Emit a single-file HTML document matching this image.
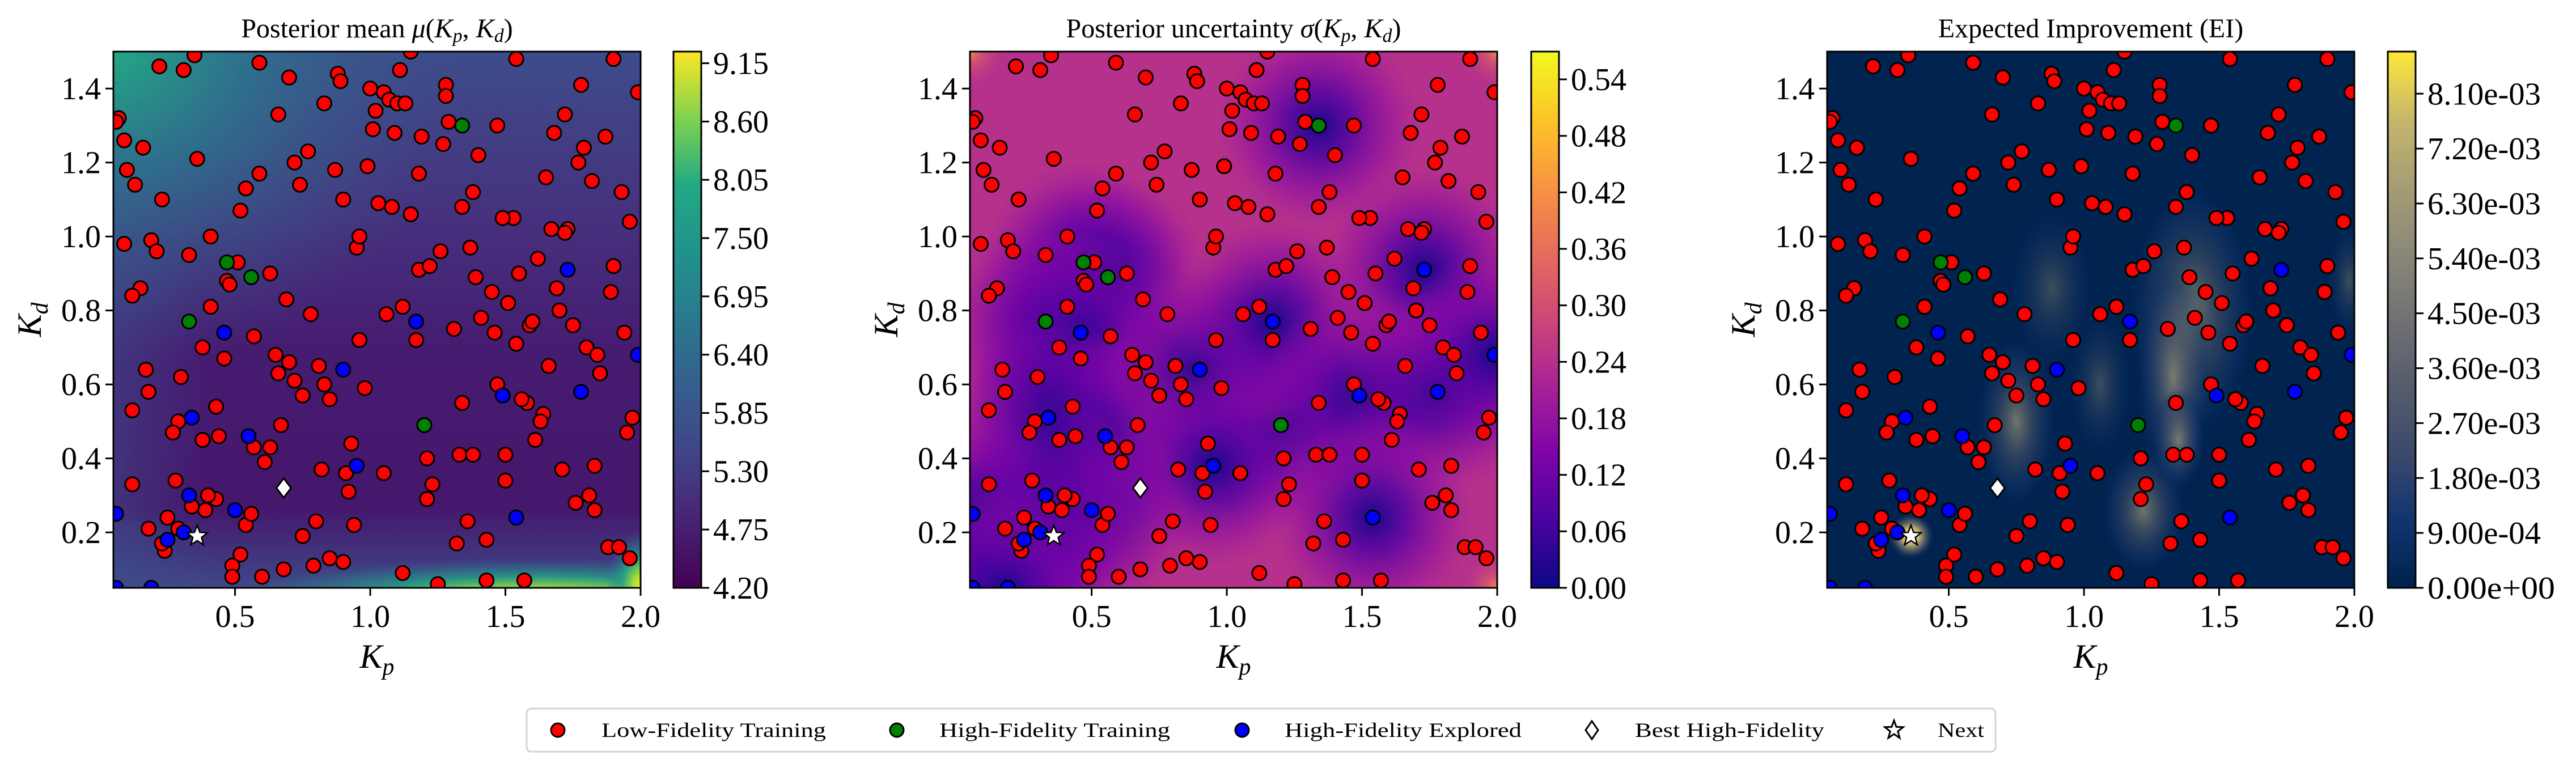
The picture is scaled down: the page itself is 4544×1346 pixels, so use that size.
<!DOCTYPE html>
<html><head><meta charset="utf-8">
<style>
html,body{margin:0;padding:0;background:#fff;}
svg{display:block;font-family:"Liberation Serif",serif;}
</style></head>
<body>
<svg id="fig" width="4544" height="1346" viewBox="0 0 4544 1346" xmlns="http://www.w3.org/2000/svg">
<defs>
  <linearGradient id="viridis" x1="0" y1="1" x2="0" y2="0">
    <stop offset="0" stop-color="#440154"/><stop offset="0.13" stop-color="#482475"/><stop offset="0.25" stop-color="#414487"/>
    <stop offset="0.38" stop-color="#355f8d"/><stop offset="0.5" stop-color="#2a788e"/><stop offset="0.62" stop-color="#21918c"/>
    <stop offset="0.75" stop-color="#22a884"/><stop offset="0.87" stop-color="#7ad151"/><stop offset="1" stop-color="#fde725"/>
  </linearGradient>
  <linearGradient id="plasma" x1="0" y1="1" x2="0" y2="0">
    <stop offset="0" stop-color="#0d0887"/><stop offset="0.13" stop-color="#4c02a1"/><stop offset="0.25" stop-color="#7e03a8"/>
    <stop offset="0.38" stop-color="#a92395"/><stop offset="0.5" stop-color="#cc4778"/><stop offset="0.62" stop-color="#e56b5d"/>
    <stop offset="0.75" stop-color="#f89441"/><stop offset="0.87" stop-color="#fdc328"/><stop offset="1" stop-color="#f0f921"/>
  </linearGradient>
  <linearGradient id="cividis" x1="0" y1="1" x2="0" y2="0">
    <stop offset="0" stop-color="#00224e"/><stop offset="0.13" stop-color="#123570"/><stop offset="0.25" stop-color="#3b496c"/>
    <stop offset="0.38" stop-color="#575d6d"/><stop offset="0.5" stop-color="#707173"/><stop offset="0.62" stop-color="#8a8779"/>
    <stop offset="0.75" stop-color="#a69d75"/><stop offset="0.87" stop-color="#c4b56c"/><stop offset="1" stop-color="#fee838"/>
  </linearGradient>
  <linearGradient id="muBase" x1="0" y1="0" x2="0" y2="1">
    <stop offset="0" stop-color="#3e4c8a"/><stop offset="0.3" stop-color="#46327e"/><stop offset="0.55" stop-color="#461c71"/>
    <stop offset="0.85" stop-color="#45176d"/><stop offset="1" stop-color="#3f4888"/>
  </linearGradient>
  <radialGradient id="muTL" cx="0.5" cy="0.5" r="0.5">
    <stop offset="0" stop-color="#22a884" stop-opacity="1"/><stop offset="0.4" stop-color="#2a788e" stop-opacity="0.75"/><stop offset="1" stop-color="#3b528b" stop-opacity="0"/>
  </radialGradient>
  <radialGradient id="muBot" cx="0.5" cy="0.5" r="0.5">
    <stop offset="0" stop-color="#fde725"/><stop offset="0.25" stop-color="#a0da39"/><stop offset="0.55" stop-color="#22a884" stop-opacity="0.8"/><stop offset="1" stop-color="#2a788e" stop-opacity="0"/>
  </radialGradient>
  <linearGradient id="muLeft" x1="0" y1="0" x2="1" y2="0">
    <stop offset="0" stop-color="#3b528b" stop-opacity="0.9"/><stop offset="1" stop-color="#3b528b" stop-opacity="0"/>
  </linearGradient>
  <radialGradient id="sigBlob" cx="0.5" cy="0.5" r="0.5">
    <stop offset="0" stop-color="#1a068d" stop-opacity="1"/><stop offset="0.35" stop-color="#5302a3" stop-opacity="0.8"/><stop offset="0.7" stop-color="#7e03a8" stop-opacity="0.4"/><stop offset="1" stop-color="#9c179e" stop-opacity="0"/>
  </radialGradient>
  <radialGradient id="sigCorner" cx="0.5" cy="0.5" r="0.5">
    <stop offset="0" stop-color="#f89441"/><stop offset="0.3" stop-color="#e56b5d" stop-opacity="0.6"/><stop offset="1" stop-color="#cc4778" stop-opacity="0"/>
  </radialGradient>
  <radialGradient id="eiBlob" cx="0.5" cy="0.5" r="0.5">
    <stop offset="0" stop-color="#a69d75" stop-opacity="0.9"/><stop offset="0.45" stop-color="#575d6d" stop-opacity="0.6"/><stop offset="0.8" stop-color="#123570" stop-opacity="0.45"/><stop offset="1" stop-color="#00224e" stop-opacity="0"/>
  </radialGradient>
  <radialGradient id="eiStar" cx="0.5" cy="0.5" r="0.5">
    <stop offset="0" stop-color="#fee838"/><stop offset="0.35" stop-color="#c4b56c"/><stop offset="0.7" stop-color="#575d6d" stop-opacity="0.6"/><stop offset="1" stop-color="#00224e" stop-opacity="0"/>
  </radialGradient>
  <clipPath id="clip1"><rect x="200" y="91" width="930" height="946"/></clipPath>
  <clipPath id="clip2"><rect x="1711" y="91" width="930" height="946"/></clipPath>
  <clipPath id="clip3"><rect x="3223" y="91" width="930" height="946"/></clipPath>
</defs>
</svg>
<script>
// ---- data ----
const lfX=[0.22,0.31,0.35,0.59,0.70,0.88,0.89,1.15,1.11,1.00,1.05,1.07,1.02,1.10,1.13,0.83,0.66,1.28,1.28,1.54,1.90,1.99,1.78,1.72,1.68,1.87,1.79,1.47,1.29,1.01,1.09,1.19,1.27,1.40,1.77,1.82,1.93,1.65,1.96,1.53,1.49,1.67,1.73,1.72,1.38,1.34,1.18,1.08,1.03,1.15,0.90,0.99,0.87,0.74,0.59,0.54,0.72,0.77,0.52,0.36,0.16,0.09,0.10,0.13,0.23,0.07,0.06,0.09,0.19,0.21,0.33,0.41,0.51,0.47,0.48,0.63,0.69,0.41,0.38,0.15,0.12,0.78,0.95,0.96,1.18,1.22,1.26,1.37,1.39,1.45,1.51,1.55,1.62,1.69,1.90,1.89,1.94,1.75,1.70,1.80,1.84,1.85,1.66,1.54,1.59,1.60,1.46,1.41,1.31,1.17,1.06,1.12,0.96,0.98,0.81,0.83,0.85,0.70,0.65,0.66,0.72,0.75,0.57,0.46,0.17,0.18,0.30,0.12,0.43,0.38,0.44,0.29,0.27,0.57,0.63,0.61,0.67,0.93,0.91,0.92,0.82,1.05,1.21,1.23,1.21,1.33,1.38,1.34,1.47,1.58,1.56,1.64,1.63,1.61,1.50,1.50,1.71,1.83,1.81,1.83,1.76,1.95,1.97,1.88,1.92,1.96,1.36,1.43,1.32,1.12,1.25,1.43,1.57,0.94,0.90,0.85,0.79,0.75,0.80,0.68,0.60,0.52,0.49,0.49,0.54,0.56,0.43,0.40,0.39,0.34,0.25,0.28,0.12,0.18,0.24,0.23,0.29];
const lfY=[1.46,1.45,1.49,1.47,1.43,1.44,1.42,1.50,1.45,1.40,1.39,1.37,1.34,1.36,1.36,1.36,1.33,1.41,1.38,1.48,1.48,1.39,1.41,1.33,1.28,1.27,1.24,1.30,1.31,1.29,1.28,1.27,1.25,1.22,1.20,1.15,1.12,1.16,1.04,1.05,1.05,1.02,1.02,1.01,1.12,1.08,1.17,1.08,1.09,1.06,1.10,1.19,1.18,1.14,1.17,1.13,1.20,1.23,1.07,1.21,1.24,1.26,1.18,1.14,1.10,1.32,1.31,0.98,0.99,0.96,0.95,1.00,0.93,0.88,0.87,0.90,0.83,0.81,0.70,0.86,0.84,0.79,0.97,1.00,0.91,0.92,0.96,0.97,0.89,0.85,0.82,0.90,0.94,0.86,0.92,0.85,0.74,0.76,0.80,0.70,0.68,0.63,0.65,0.71,0.76,0.77,0.74,0.78,0.75,0.72,0.79,0.81,0.72,0.59,0.65,0.60,0.56,0.66,0.68,0.63,0.61,0.57,0.73,0.67,0.64,0.58,0.62,0.53,0.54,0.45,0.46,0.50,0.47,0.43,0.43,0.39,0.49,0.44,0.36,0.31,0.37,0.36,0.40,0.33,0.29,0.41,0.41,0.55,0.60,0.55,0.56,0.52,0.50,0.45,0.41,0.34,0.37,0.38,0.30,0.26,0.28,0.47,0.51,0.16,0.16,0.13,0.23,0.18,0.17,0.09,0.06,0.07,0.07,0.22,0.12,0.13,0.11,0.19,0.23,0.10,0.08,0.14,0.11,0.08,0.22,0.25,0.29,0.30,0.26,0.27,0.24,0.34,0.33,0.21,0.15,0.17,0.21];
const hfX=[1.34,0.47,0.56,0.33,1.20];
const hfY=[1.30,0.93,0.89,0.77,0.49];
const exX=[0.46,0.34,0.55,0.90,0.95,1.17,1.73,1.49,1.78,1.99,1.54,0.50,0.33,0.25,0.31,0.06,0.06,0.19];
const exY=[0.74,0.51,0.46,0.64,0.38,0.77,0.91,0.57,0.58,0.68,0.24,0.26,0.30,0.18,0.20,0.25,0.05,0.05];
const bestX=[0.68], bestY=[0.32];
const nextX=[0.36], nextY=[0.19];
const xTicks=[0.5,1.0,1.5,2.0];
const yTicks=[0.2,0.4,0.6,0.8,1.0,1.2,1.4];
const xTickLabels=["0.5","1.0","1.5","2.0"];
const yTickLabels=["0.2","0.4","0.6","0.8","1.0","1.2","1.4"];
const cb1Ticks=[4.20,4.75,5.30,5.85,6.40,6.95,7.50,8.05,8.60,9.15];
const cb1Labels=["4.20","4.75","5.30","5.85","6.40","6.95","7.50","8.05","8.60","9.15"];
const cb2Ticks=[0,0.06,0.12,0.18,0.24,0.30,0.36,0.42,0.48,0.54];
const cb2Labels=["0.00","0.06","0.12","0.18","0.24","0.30","0.36","0.42","0.48","0.54"];
const cb3Ticks=[0,0.0009,0.0018,0.0027,0.0036,0.0045,0.0054,0.0063,0.0072,0.0081];
const cb3Labels=["0.00e+00","9.00e-04","1.80e-03","2.70e-03","3.60e-03","4.50e-03","5.40e-03","6.30e-03","7.20e-03","8.10e-03"];
// EI ridge blobs (data coords, sizes in data units)
const eiBX=[1.40,1.33,0.75,1.22,1.35,0.88,1.06,1.98];
const eiBY=[0.80,0.62,0.50,0.26,0.45,0.86,0.60,0.88];
const eiBW=[0.24,0.14,0.15,0.16,0.10,0.16,0.12,0.08];
const eiBH=[0.36,0.30,0.24,0.18,0.14,0.22,0.20,0.16];

const NS="http://www.w3.org/2000/svg";
const svg=document.getElementById('fig');
const X0=0.05,X1=2.0,Y0=0.05,Y1=1.5,TOP=91,H=946,W=930;
function mk(tag,attrs,parent){const e=document.createElementNS(NS,tag);for(const k in attrs)e.setAttribute(k,attrs[k]);(parent||svg).appendChild(e);return e;}
function txt(s,attrs,parent){const e=mk('text',attrs,parent);e.textContent=s;return e;}

const panels=[
 {L:200,cbL:1188,clip:'clip1',title:'Posterior mean ',sym:'μ',cmap:'viridis',ticks:cb1Ticks,labels:cb1Labels,vmin:4.20,vmax:9.26,name:'mean'},
 {L:1711,cbL:2701,clip:'clip2',title:'Posterior uncertainty ',sym:'σ',cmap:'plasma',ticks:cb2Ticks,labels:cb2Labels,vmin:0,vmax:0.5695,name:'uncertainty'},
 {L:3223,cbL:4212,clip:'clip3',title:'Expected Improvement (EI)',sym:null,cmap:'cividis',ticks:cb3Ticks,labels:cb3Labels,vmin:0,vmax:0.00879,name:'ei'}
];

panels.forEach((p,pi)=>{
  const sx=v=>p.L+(v-X0)/(X1-X0)*W;
  const sy=v=>TOP+(Y1-v)/(Y1-Y0)*H;
  const g=mk('g',{});
  
  
  const bg=mk('g',{'clip-path':'url(#'+p.clip+')'},g);
  
  
  if(pi===0){
    mk('rect',{x:p.L,y:TOP,width:W,height:H,fill:'url(#muBase)'},bg);
    mk('rect',{x:p.L,y:TOP,width:160,height:H,fill:'url(#muLeft)',opacity:0.5},bg);
    mk('ellipse',{cx:p.L,cy:TOP,rx:620,ry:560,fill:'url(#muTL)'},bg);
    mk('ellipse',{cx:sx(1.62),cy:TOP+H+18,rx:540,ry:70,fill:'url(#muBot)'},bg);
    mk('ellipse',{cx:sx(2.0),cy:TOP+H,rx:60,ry:100,fill:'url(#muBot)'},bg);
    mk('ellipse',{cx:p.L,cy:TOP+H,rx:200,ry:120,fill:'url(#muLeft)',opacity:0.4},bg);
  } else if(pi===1){
    mk('rect',{x:p.L,y:TOP,width:W,height:H,fill:'#b5318c'},bg);
    const hx=hfX.concat(exX), hy=hfY.concat(exY);
    for(let i=0;i<hx.length;i++){
      mk('circle',{cx:sx(hx[i]),cy:sy(hy[i]),r:180,fill:'url(#sigBlob)'},bg);
    }
    mk('ellipse',{cx:sx(0.35),cy:sy(0.5),rx:170,ry:330,fill:'url(#sigBlob)',opacity:0.6},bg);
    [[X0,Y1],[X1,Y1],[X1,Y0]].forEach(c=>mk('circle',{cx:sx(c[0]),cy:sy(c[1]),r:60,fill:'url(#sigCorner)'},bg));
  } else {
    mk('rect',{x:p.L,y:TOP,width:W,height:H,fill:'#002350'},bg);
    for(let i=0;i<eiBX.length;i++){
      mk('ellipse',{cx:sx(eiBX[i]),cy:sy(eiBY[i]),rx:eiBW[i]/(X1-X0)*W,ry:eiBH[i]/(Y1-Y0)*H,fill:'url(#eiBlob)',opacity:(i>=5?0.4:0.75)},bg);
    }
    mk('circle',{cx:sx(nextX[0]),cy:sy(nextY[0]),r:42,fill:'url(#eiStar)'},bg);
  }
  // points
  const pts=mk('g',{'clip-path':'url(#'+p.clip+')'},g);
  function circ(x,y,fill,nm){
    const c=mk('circle',{cx:sx(x),cy:sy(y),r:12.5,fill:fill,stroke:'#000','stroke-width':3},pts);
    
    
  }
  for(let i=0;i<lfX.length;i++)circ(lfX[i],lfY[i],'#ff0000','low-fidelity-point');
  for(let i=0;i<hfX.length;i++)circ(hfX[i],hfY[i],'#008000','high-fidelity-point');
  for(let i=0;i<exX.length;i++)circ(exX[i],exY[i],'#0000ff','explored-point');
  const bx=sx(bestX[0]),by=sy(bestY[0]);
  const d=mk('path',{d:`M${bx} ${by-17} L${bx+13} ${by} L${bx} ${by+17} L${bx-13} ${by} Z`,fill:'#fff',stroke:'#000','stroke-width':3},pts);
  
  
  const nx=sx(nextX[0]),ny=sy(nextY[0]);
  let sp='';for(let k=0;k<10;k++){const a=-Math.PI/2+k*Math.PI/5;const r=k%2?8:19;sp+=(k?'L':'M')+(nx+r*Math.cos(a)).toFixed(1)+' '+(ny+r*Math.sin(a)).toFixed(1);}
  const st=mk('path',{d:sp+'Z',fill:'#fff',stroke:'#000','stroke-width':2.5},pts);
  
  
  // frame
  mk('rect',{x:p.L,y:TOP,width:W,height:H,fill:'none',stroke:'#000','stroke-width':3},g);
  // ticks
  xTicks.forEach((t,i)=>{
    mk('line',{x1:sx(t),x2:sx(t),y1:TOP+H,y2:TOP+H+14,stroke:'#000','stroke-width':3},g);
    const l=txt(xTickLabels[i],{x:sx(t),y:1106,'font-size':56,'text-anchor':'middle'},g);
    
    
  });
  yTicks.forEach((t,i)=>{
    mk('line',{x1:p.L-14,x2:p.L,y1:sy(t),y2:sy(t),stroke:'#000','stroke-width':3},g);
    const l=txt(yTickLabels[i],{x:p.L-22,y:sy(t)+19,'font-size':56,'text-anchor':'end'},g);
    
    
  });
  // axis labels
  const xl=txt('',{x:p.L+W/2,y:1178,'font-size':60,'text-anchor':'middle','font-style':'italic'},g);
  xl.innerHTML='K<tspan font-size="42" dy="12">p</tspan>';
  
  
  const yl=txt('',{x:0,y:0,'font-size':60,'text-anchor':'middle','font-style':'italic',transform:`translate(${p.L-128},${TOP+H/2}) rotate(-90)`},g);
  yl.innerHTML='K<tspan font-size="42" dy="12">d</tspan>';
  
  
  // title
  const tt=txt('',{x:p.L+W/2,y:66,'font-size':48,'text-anchor':'middle'},g);
  if(p.sym){tt.innerHTML=p.title+'<tspan font-style="italic">'+p.sym+'</tspan>(<tspan font-style="italic">K</tspan><tspan font-size="34" dy="8" font-style="italic">p</tspan><tspan dy="-8">, </tspan><tspan font-style="italic">K</tspan><tspan font-size="34" dy="8" font-style="italic">d</tspan><tspan dy="-8">)</tspan>';}
  else tt.textContent=p.title;
  
  
  // colorbar
  const cb=mk('g',{},g);
  
  
  mk('rect',{x:p.cbL,y:TOP,width:49,height:H,fill:'url(#'+p.cmap+')',stroke:'#000','stroke-width':3},cb);
  const cy=v=>TOP+H-(v-p.vmin)/(p.vmax-p.vmin)*H;
  p.ticks.forEach((t,i)=>{
    mk('line',{x1:p.cbL+49,x2:p.cbL+63,y1:cy(t),y2:cy(t),stroke:'#000','stroke-width':3},cb);
    const a={x:p.cbL+70,y:cy(t)+19,'font-size':56};
    if(pi===2){a.textLength=(i===0?225:200);a.lengthAdjust='spacingAndGlyphs';}
    const l=txt(p.labels[i],a,cb);
    
    
  });
});

// legend
const lg=mk('g',{});


mk('rect',{x:929,y:1250,width:2591,height:76,rx:8,fill:'#fff',stroke:'#d4d4d4','stroke-width':3},lg);
const legNames=['Low-Fidelity Training','High-Fidelity Training','High-Fidelity Explored','Best High-Fidelity','Next'];
const legMX=[984,1582,2191,2808,3341];
const legTX=[1061,1657,2266,2884,3418];
const legTW=[396,407,418,334,82];
legNames.forEach((n,i)=>{
  const e=mk('g',{},lg);
  
  
  const mx=legMX[i],my=1288;
  if(i<3)mk('circle',{cx:mx,cy:my,r:12,fill:['#ff0000','#008000','#0000ff'][i],stroke:'#000','stroke-width':3},e);
  else if(i===3)mk('path',{d:`M${mx} ${my-16} L${mx+11} ${my} L${mx} ${my+16} L${mx-11} ${my} Z`,fill:'#fff',stroke:'#000','stroke-width':3},e);
  else{let sp='';for(let k=0;k<10;k++){const a=-Math.PI/2+k*Math.PI/5;const r=k%2?7:17;sp+=(k?'L':'M')+(mx+r*Math.cos(a)).toFixed(1)+' '+(my+r*Math.sin(a)).toFixed(1);}mk('path',{d:sp+'Z',fill:'#fff',stroke:'#000','stroke-width':3},e);}
  txt(n,{x:legTX[i],y:1300,'font-size':36,textLength:legTW[i],lengthAdjust:'spacingAndGlyphs'},e);
});
</script>
</body></html>
